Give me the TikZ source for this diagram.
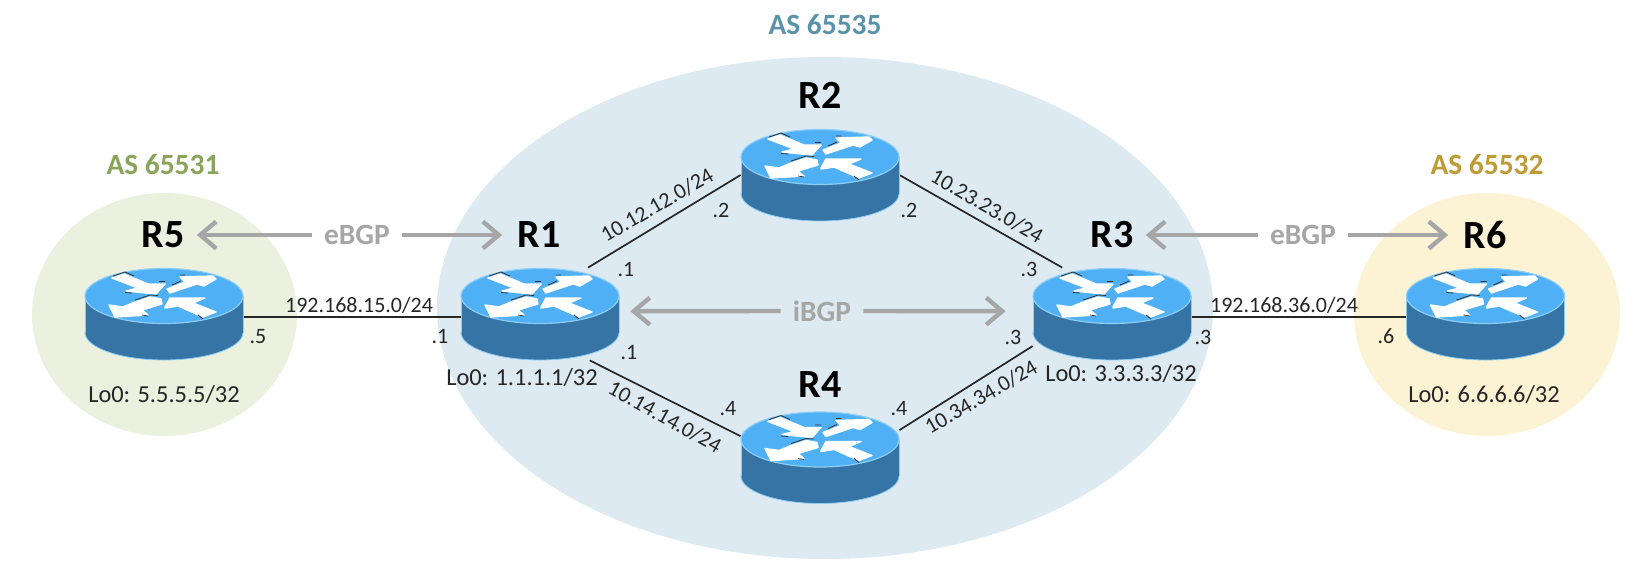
\documentclass[tikz,border=0pt]{standalone}
\usepackage{fontspec}
\setmainfont{Carlito}
\usetikzlibrary{arrows.meta}
\definecolor{asblue}{HTML}{DEEAF1}
\definecolor{asgreen}{HTML}{EBF0DF}
\definecolor{asyellow}{HTML}{FCF2D4}
\definecolor{txtblue}{HTML}{5A93A8}
\definecolor{txtgreen}{HTML}{8BA45C}
\definecolor{txtgold}{HTML}{BF9B35}
\definecolor{bgpgray}{HTML}{A6A6A6}
\definecolor{rtop}{HTML}{4FB0F6}
\definecolor{rside}{HTML}{3574A5}
\definecolor{redge}{HTML}{8CCDF5}
\definecolor{txtdark}{HTML}{262626}
\tikzset{
  >={Straight Barb[length=8pt,width=13.5pt]},
  routerbox/.style={minimum width=79pt,minimum height=46pt,inner sep=0pt},
  rname/.style={font=\fontsize{20}{24}\selectfont\bfseries,inner sep=6pt},
  asname/.style={font=\fontsize{14.7}{18}\selectfont\bfseries},
  bgpname/.style={font=\fontsize{14.7}{18}\selectfont\bfseries,text=bgpgray,inner sep=6pt},
  bgpline/.style={->,draw=bgpgray,line width=2.2pt},
  link/.style={draw=txtdark,line width=0.85pt},
  ipname/.style={font=\fontsize{11}{13}\selectfont,text=txtdark,inner sep=0pt},
  loname/.style={font=\fontsize{12.2}{14}\selectfont,text=txtdark,inner sep=0pt},
  whitearrow/.style={fill=white,draw=white,line width=0.7pt,line join=round},
  speck/.style={draw=black!80,line width=0.4pt}
}
\newcommand{\routericon}{
  \fill[rside,draw=redge,line width=0.4pt] (0,18.5) ellipse (79 and 27.5);
  \fill[rside] (-79,-18) rectangle (79,18.5);
  \draw[redge,line width=0.4pt] (-79,-18) -- (-79,18.5) (79,-18) -- (79,18.5);
  \fill[rtop,draw=redge,line width=0.6pt] (0,-18) ellipse (79 and 27.5);
  \begin{scope}[yshift=9pt]
  \draw[whitearrow] (-52,-18) -- (-40,-22) -- (-16,-12) -- (1,-12) -- (-8,-2) -- (-38,-5) -- (-26,-8) -- cycle;
  \draw[whitearrow] (3,-7) -- (21,-14) -- (16,-19) -- (49,-20) -- (52,-17) -- (40,-10) -- (33,-12) -- (6,-3) -- cycle;
  \draw[whitearrow] (-14,1) -- (-3,3) -- (-2,8) -- (-22,14) -- (-16,19) -- (-49,21) -- (-55,9) -- (-41,11) -- (-29,6) -- cycle;
  \draw[whitearrow] (1,11) -- (6,2) -- (41,2) -- (29,7) -- (52,16) -- (39,21) -- (14,10) -- (1,12) -- cycle;
  \draw[speck] (-51,-20) -- (-39,-24) -- (-30,-20) (-5,-14.5) -- (1,-14.5) (-39,-3.5) -- (-32,-3);
  \draw[speck] (16,-21) -- (21,-21) (8,-11) -- (17,-15);
  \draw[speck] (-29,4) -- (-14,-1) -- (-6,-0.5) (-22,19) -- (-16,20);
  \draw[speck] (34,19) -- (39,23);
  \end{scope}
}
\begin{document}
\begin{tikzpicture}[x=0.5pt,y=-0.5pt]
\useasboundingbox (0,0) rectangle (1650,584);
\fill[asblue] (825,308) ellipse (388 and 251);
\fill[asgreen] (164.5,314.5) ellipse (132.5 and 121.5);
\fill[asyellow] (1487,314.5) ellipse (133 and 121.5);
\node[routerbox] (r1) at (540,314) {};
\node[routerbox] (r2) at (820,175) {};
\node[routerbox] (r3) at (1112,314) {};
\node[routerbox] (r4) at (820,457.5) {};
\node[routerbox] (r5) at (164,314) {};
\node[routerbox] (r6) at (1485.5,314) {};
\draw[link] (r5.-2) -- (r1.182);
\draw[link] (r3.-2) -- (r6.182);
\draw[link] (r1.44) -- (r2.west);
\draw[link] (r2.east) -- (r3.137);
\draw[link] (r1.-43) -- (r4.165);
\draw[link] (r4.19) -- (r3.202);
\foreach \r in {r1,r2,r3,r4,r5,r6} {
  \begin{scope}[shift={(\r.center)}]
  \routericon
  \end{scope}
}
\node[rname] (r1name) at (539,235) {R1};
\node[rname] (r2name) at (820,95) {R2};
\node[rname] (r3name) at (1112,235) {R3};
\node[rname] (r4name) at (820,385) {R4};
\node[rname] (r5name) at (163,235) {R5};
\node[rname] (r6name) at (1485,235) {R6};
\node[asname,text=txtblue] (as35) at (825,25) {AS 65535};
\node[asname,text=txtgreen] (as31) at (163,165) {AS 65531};
\node[asname,text=txtgold] (as32) at (1487,165) {AS 65532};
\node[bgpname] (ebgpa) at (357,235) {eBGP};
\node[bgpname] (ebgpb) at (1303,235) {eBGP};
\node[bgpname] (ibgp) at (822,311) {iBGP};
\draw[bgpline] (ebgpa.west) -- (r5name.east);
\draw[bgpline,shorten >=1.5pt] (ebgpa.east) -- (r1name.west);
\draw[bgpline] (ebgpb.west) -- (r3name.east);
\draw[bgpline,shorten >=1.5pt] (ebgpb.east) -- (r6name.west);
\draw[bgpline,shorten >=5.5pt] (ibgp.west) -- (r1.2);
\draw[bgpline,shorten >=13.5pt] (ibgp.east) -- (r3.178);
\node[ipname] (net15) at (359,305) {192.168.15.0/24};
\node[ipname] (net36) at (1284,305) {192.168.36.0/24};
\node[ipname,rotate=30] (net12) at (657,205) {10.12.12.0/24};
\node[ipname,rotate=-30] (net23) at (987,206) {10.23.23.0/24};
\node[ipname,rotate=-29] (net14) at (665,417) {10.14.14.0/24};
\node[ipname,rotate=30] (net34) at (981,397) {10.34.34.0/24};
\foreach \n/\x/\y/\t in {ha/258/337/.5,hb/440/337/.1,hc/1203/337/.3,hd/1386/336/.6,he/626/270/.1,hf/629/353/.1,
  hg/721/210/.2,hh/909/210/.2,hi/1029/269/.3,hj/1013/337/.3,hk/728/409/.4,hl/899/409/.4}
  \node[ipname] (\n) at (\x,\y) {\t};
\node[loname] (lo5) at (164,395) {Lo0: 5.5.5.5/32};
\node[loname] (lo1) at (522,378) {Lo0: 1.1.1.1/32};
\node[loname] (lo3) at (1121,374) {Lo0: 3.3.3.3/32};
\node[loname] (lo6) at (1484,395) {Lo0: 6.6.6.6/32};
\end{tikzpicture}
\end{document}
